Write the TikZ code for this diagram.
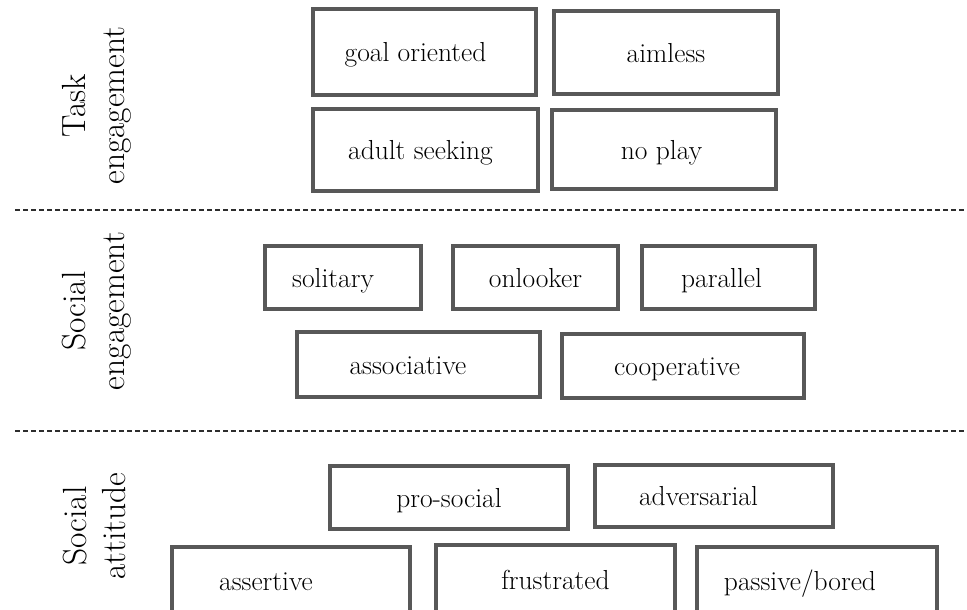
\documentclass[tikz,border=0pt]{standalone}
\usepackage{fontspec}

\definecolor{boxgray}{RGB}{88,88,88}
\definecolor{sepgray}{RGB}{45,45,45}

\tikzset{
  tag/.style={draw=boxgray, line width=4pt, rectangle, inner sep=0pt},
  caption/.style={rotate=90, align=center, inner sep=0pt, font=\fontsize{33.5}{39}\selectfont},
  sep/.style={sepgray, line width=2.2pt, dash pattern=on 5pt off 3pt},
  every label/.style={font=\fontsize{27.5}{33}\selectfont, text height=19pt, text depth=5.5pt, inner sep=0pt, yshift=-3pt}
}

\begin{document}
\begin{tikzpicture}[x=1pt, y=-1pt]
\useasboundingbox (0,0) rectangle (967,610);

% Categories
\node[caption] (task) at (97,105.5) {Task\\engagement};
\node[caption] (socialeng) at (97,311) {Social\\engagement};
\node[caption] (socialatt) at (94,526) {Social\\attitude};

% Separators
\draw[sep] (15,210) -- (967,210);
\draw[sep] (15,431) -- (967,431);

% Task engagement
\node[tag, minimum width=223pt, minimum height=86pt, label={[xshift=-9pt]center:goal oriented}] (goal) at (424.5,52) {};
\node[tag, minimum width=224pt, minimum height=83pt, label={center:aimless}] (aimless) at (666,52.5) {};
\node[tag, minimum width=225pt, minimum height=82pt, label={[xshift=-5pt]center:adult seeking}] (adult) at (425.5,150) {};
\node[tag, minimum width=224pt, minimum height=79pt, label={[xshift=-2.5pt]center:no play}] (noplay) at (664,149.5) {};

% Social engagement
\node[tag, minimum width=156pt, minimum height=63pt, label={[xshift=-10pt]center:solitary}] (solitary) at (343,277.5) {};
\node[tag, minimum width=165pt, minimum height=63pt, label={center:onlooker}] (onlooker) at (535.5,277.5) {};
\node[tag, minimum width=173pt, minimum height=63pt, label={[xshift=-7pt]center:parallel}] (parallel) at (728.5,277.5) {};
\node[tag, minimum width=243pt, minimum height=65pt, label={[xshift=-10.5pt]center:associative}] (associative) at (418.5,364.5) {};
\node[tag, minimum width=242pt, minimum height=64pt, label={[xshift=-6pt]center:cooperative}] (cooperative) at (683,366) {};

% Social attitude
\node[tag, minimum width=238pt, minimum height=63pt, label={center:pro-social}] (prosocial) at (449,497.5) {};
\node[tag, minimum width=238pt, minimum height=62pt, label={[xshift=-15.5pt]center:adversarial}] (adversarial) at (714,496) {};
\node[tag, minimum width=238pt, minimum height=67pt, label={[xshift=-25pt]center:assertive}] (assertive) at (291,580.5) {};
\node[tag, minimum width=239pt, minimum height=69pt, label={center:frustrated}] (frustrated) at (555.5,579.5) {};
\node[tag, minimum width=239.5pt, minimum height=67pt, label={[xshift=-17pt]center:passive/bored}] (passive) at (817,580.5) {};
\end{tikzpicture}
\end{document}
